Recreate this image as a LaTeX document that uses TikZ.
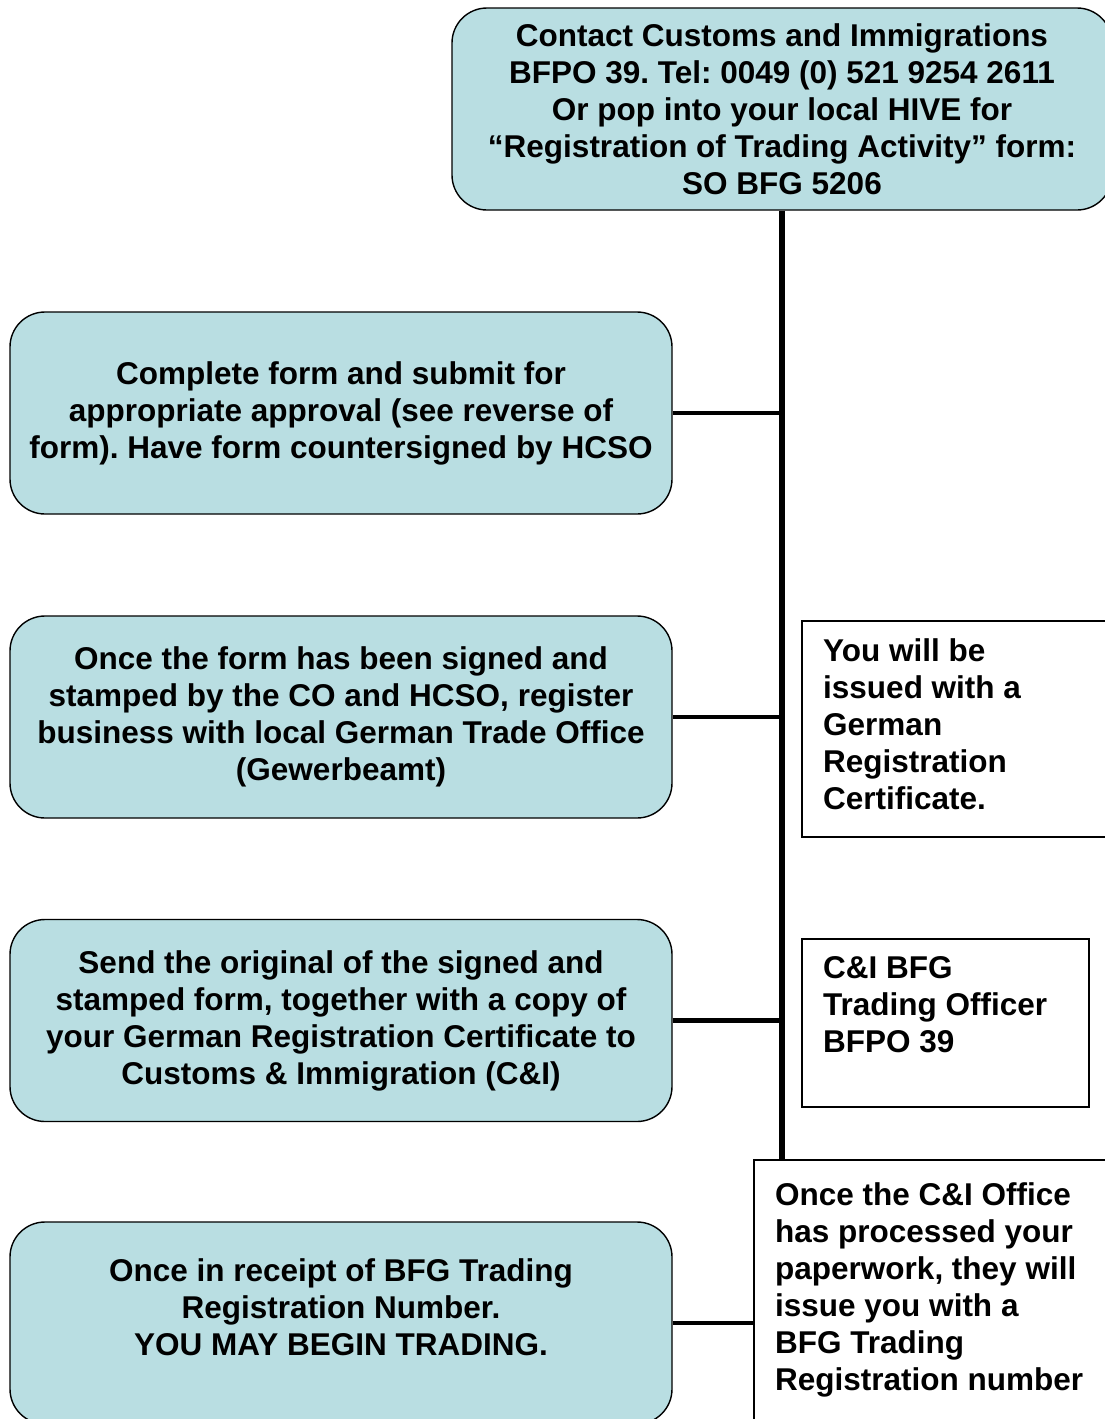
\documentclass[tikz,border=0pt]{standalone}
\usepackage{fontspec}
\setmainfont{Liberation Sans}
\frenchspacing
\definecolor{boxblue}{RGB}{185,222,226}
\begin{document}
\begin{tikzpicture}[x=1pt,y=-1pt,
  txt/.style={font=\fontsize{31.5}{37}\selectfont\bfseries},
  flowbox/.style={txt,draw,line width=1.4pt,fill=boxblue,rounded corners=35pt,
    minimum width=662pt,minimum height=202pt,align=center,inner sep=0pt},
  plainbox/.style={draw,line width=1.4pt,fill=white,inner sep=0pt},
  lefttext/.style={txt,align=left,anchor=north west,inner sep=0pt},
  link/.style={line width=4.7pt},
  trunk/.style={line width=6pt}]
\useasboundingbox (0,0) rectangle (1105,1419);
\clip (0,0) rectangle (1105,1419);
\fill[white] (0,0) rectangle (1105,1419);
% main boxes
\node[flowbox,minimum width=660pt] (top) at (782,109)
  {Contact Customs and Immigrations\\BFPO 39. Tel: 0049 (0) 521 9254 2611\\Or pop into your local HIVE for\\``Registration of Trading Activity'' form:\\SO BFG 5206};
\node[flowbox] (b2) at (341,413)
  {Complete form and submit for\\appropriate approval (see reverse of\\form). Have form countersigned by HCSO};
\node[flowbox] (b3) at (341,717)
  {Once the form has been signed and\\stamped by the CO and HCSO, register\\business with local German Trade Office\\(Gewerbeamt)};
\node[flowbox] (b4) at (341,1020.5)
  {Send the original of the signed and\\stamped form, together with a copy of\\your German Registration Certificate to\\Customs \& Immigration (C\&I)};
\node[flowbox] (b5) at (341,1323) {};
\node[txt,align=center,inner sep=0pt] (t5) at (341,1307)
  {Once in receipt of BFG Trading\\Registration Number.\\YOU MAY BEGIN TRADING.};
% right boxes
\node[plainbox,minimum width=312pt,minimum height=216pt] (r1) at (958,729) {};
\node[plainbox,minimum width=287pt,minimum height=168pt] (r2) at (945.5,1023) {};
\node[plainbox,minimum width=361pt,minimum height=270pt] (r3) at (934.5,1295) {};
\node[lefttext] (t1) at (823,638)
  {You will be\\issued with a\\German\\Registration\\Certificate.};
\node[lefttext] (t2) at (823,956)
  {C\&I BFG\\Trading Officer\\BFPO 39};
\node[lefttext] (t3) at (775,1182)
  {Once the C\&I Office\\has processed your\\paperwork, they will\\issue you with a\\BFG Trading\\Registration number};
% connectors
\draw[trunk] (top.south) -- (top.south |- r3.north);
\draw[link] (b2.east) -- (b2.east -| top.south);
\draw[link] (b3.east) -- (b3.east -| top.south);
\draw[link] (b4.east) -- (b4.east -| top.south);
\draw[link] (b5.east) -- (b5.east -| r3.west);
\end{tikzpicture}
\end{document}
